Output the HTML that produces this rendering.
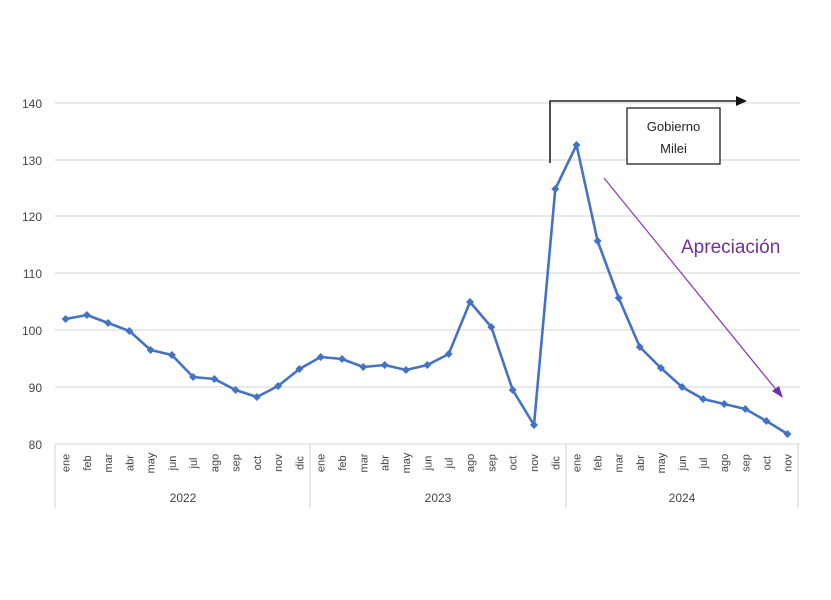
<!DOCTYPE html>
<html><head><meta charset="utf-8"><style>
html,body{margin:0;padding:0;background:#fff;}
svg{display:block;font-family:"Liberation Sans",sans-serif;}
</style></head><body>
<svg width="831" height="600" viewBox="0 0 831 600" xmlns="http://www.w3.org/2000/svg">
<rect width="831" height="600" fill="#fff"/>
<g stroke="#dcdcdc" stroke-width="1.3">
<line x1="55" y1="103" x2="800" y2="103"/>
<line x1="55" y1="160" x2="800" y2="160"/>
<line x1="55" y1="216" x2="800" y2="216"/>
<line x1="55" y1="273" x2="800" y2="273"/>
<line x1="55" y1="330" x2="800" y2="330"/>
<line x1="55" y1="387" x2="800" y2="387"/>
<line x1="55" y1="444" x2="800" y2="444"/>
<line x1="55" y1="444" x2="55" y2="508"/>
<line x1="310" y1="444" x2="310" y2="508"/>
<line x1="566" y1="444" x2="566" y2="508"/>
<line x1="798" y1="444" x2="798" y2="508"/>
</g>
<g font-size="12" fill="#444" text-anchor="end">
<text x="42" y="108">140</text><text x="42" y="165">130</text><text x="42" y="221">120</text>
<text x="42" y="278">110</text><text x="42" y="335">100</text><text x="42" y="392">90</text><text x="42" y="449">80</text>
</g>
<g font-size="11" fill="#444" text-anchor="middle">
<text transform="translate(69.6,463) rotate(-90)">ene</text>
<text transform="translate(90.9,463) rotate(-90)">feb</text>
<text transform="translate(112.1,463) rotate(-90)">mar</text>
<text transform="translate(133.4,463) rotate(-90)">abr</text>
<text transform="translate(154.6,463) rotate(-90)">may</text>
<text transform="translate(175.9,463) rotate(-90)">jun</text>
<text transform="translate(197.1,463) rotate(-90)">jul</text>
<text transform="translate(218.4,463) rotate(-90)">ago</text>
<text transform="translate(239.6,463) rotate(-90)">sep</text>
<text transform="translate(260.9,463) rotate(-90)">oct</text>
<text transform="translate(282.1,463) rotate(-90)">nov</text>
<text transform="translate(303.4,463) rotate(-90)">dic</text>
<text transform="translate(324.7,463) rotate(-90)">ene</text>
<text transform="translate(346,463) rotate(-90)">feb</text>
<text transform="translate(367.3,463) rotate(-90)">mar</text>
<text transform="translate(388.7,463) rotate(-90)">abr</text>
<text transform="translate(410,463) rotate(-90)">may</text>
<text transform="translate(431.3,463) rotate(-90)">jun</text>
<text transform="translate(452.7,463) rotate(-90)">jul</text>
<text transform="translate(474,463) rotate(-90)">ago</text>
<text transform="translate(495.3,463) rotate(-90)">sep</text>
<text transform="translate(516.7,463) rotate(-90)">oct</text>
<text transform="translate(538,463) rotate(-90)">nov</text>
<text transform="translate(559.3,463) rotate(-90)">dic</text>
<text transform="translate(580.5,463) rotate(-90)">ene</text>
<text transform="translate(601.6,463) rotate(-90)">feb</text>
<text transform="translate(622.7,463) rotate(-90)">mar</text>
<text transform="translate(643.8,463) rotate(-90)">abr</text>
<text transform="translate(664.9,463) rotate(-90)">may</text>
<text transform="translate(686,463) rotate(-90)">jun</text>
<text transform="translate(707.1,463) rotate(-90)">jul</text>
<text transform="translate(728.2,463) rotate(-90)">ago</text>
<text transform="translate(749.3,463) rotate(-90)">sep</text>
<text transform="translate(770.4,463) rotate(-90)">oct</text>
<text transform="translate(791.5,463) rotate(-90)">nov</text>
</g>
<g font-size="12" fill="#444" text-anchor="middle">
<text x="183" y="502">2022</text><text x="438" y="502">2023</text><text x="682" y="502">2024</text>
</g>
<polyline fill="none" stroke="#4472c4" stroke-width="2.6" stroke-linejoin="round" points="65.6,319 86.9,315 108.1,323 129.4,331 150.6,350 171.9,355 193.1,377 214.4,379 235.6,390 256.9,397 278.1,386 299.4,369 320.7,357 342,359 363.3,367 384.7,365 406,370 427.3,365 448.7,354 470,302 491.3,327 512.7,390 534,425 555.3,189 576.5,145 597.6,241 618.7,298 639.8,347 660.9,368 682,387 703.1,399 724.2,404 745.3,409 766.4,421 787.5,434"/>
<g fill="#4472c4">
<path d="M65.6,315l4,4l-4,4l-4,-4z M86.9,311l4,4l-4,4l-4,-4z M108.1,319l4,4l-4,4l-4,-4z M129.4,327l4,4l-4,4l-4,-4z M150.6,346l4,4l-4,4l-4,-4z M171.9,351l4,4l-4,4l-4,-4z M193.1,373l4,4l-4,4l-4,-4z M214.4,375l4,4l-4,4l-4,-4z M235.6,386l4,4l-4,4l-4,-4z M256.9,393l4,4l-4,4l-4,-4z M278.1,382l4,4l-4,4l-4,-4z M299.4,365l4,4l-4,4l-4,-4z M320.7,353l4,4l-4,4l-4,-4z M342,355l4,4l-4,4l-4,-4z M363.3,363l4,4l-4,4l-4,-4z M384.7,361l4,4l-4,4l-4,-4z M406,366l4,4l-4,4l-4,-4z M427.3,361l4,4l-4,4l-4,-4z M448.7,350l4,4l-4,4l-4,-4z M470,298l4,4l-4,4l-4,-4z M491.3,323l4,4l-4,4l-4,-4z M512.7,386l4,4l-4,4l-4,-4z M534,421l4,4l-4,4l-4,-4z M555.3,185l4,4l-4,4l-4,-4z M576.5,141l4,4l-4,4l-4,-4z M597.6,237l4,4l-4,4l-4,-4z M618.7,294l4,4l-4,4l-4,-4z M639.8,343l4,4l-4,4l-4,-4z M660.9,364l4,4l-4,4l-4,-4z M682,383l4,4l-4,4l-4,-4z M703.1,395l4,4l-4,4l-4,-4z M724.2,400l4,4l-4,4l-4,-4z M745.3,405l4,4l-4,4l-4,-4z M766.4,417l4,4l-4,4l-4,-4z M787.5,430l4,4l-4,4l-4,-4z"/>
</g>
<polyline fill="none" stroke="#222" stroke-width="1.6" points="550,163 550,101 737,101"/>
<path d="M747,101 L736,96 L736,106 Z" fill="#111"/>
<rect x="627" y="108" width="93" height="56" fill="#fff" stroke="#222" stroke-width="1.3"/>
<text x="673.5" y="131" font-size="13" fill="#222" text-anchor="middle">Gobierno</text>
<text x="673.5" y="153" font-size="13" fill="#222" text-anchor="middle">Milei</text>
<line x1="604" y1="178" x2="778" y2="392" stroke="#8e44ad" stroke-width="1.3"/>
<path d="M783,398 L772,391 L779,386 Z" fill="#7030a0"/>
<text x="681" y="253" font-size="19" fill="#7030a0">Apreciación</text>
</svg>
</body></html>
